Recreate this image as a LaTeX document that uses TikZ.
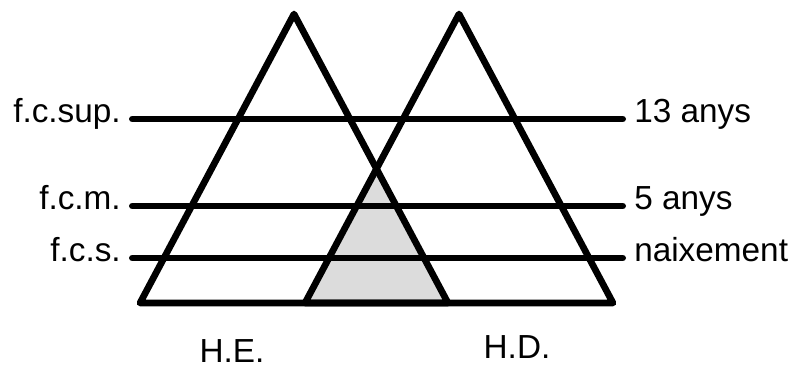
\documentclass[tikz,border=0pt]{standalone}
\usepackage{fontspec}
\setmainfont{Liberation Sans}
\definecolor{overlapgray}{RGB}{220,220,220}

\begin{document}
\begin{tikzpicture}[x=0.75pt, y=-0.75pt, font=\fontsize{25}{30}\selectfont,
  edge/.style={line width=5pt, line join=round, line cap=round},
  rung/.style={edge, shorten <=8.5pt, shorten >=8.5pt},
  lbl/.style={inner sep=0pt}]
  \useasboundingbox (0,0) rectangle (789,367);
  \coordinate (LA) at (294,14);
  \coordinate (LL) at (140,303);
  \coordinate (LR) at (448,303);
  \coordinate (RA) at (459,14);
  \coordinate (RL) at (305,303);
  \coordinate (RR) at (613,303);
  \coordinate (X) at (376.5,169);
  \fill[overlapgray] (RL) -- (X) -- (LR) -- cycle;
  \node[lbl, anchor=mid east] (fcsup) at (121,119) {f.c.sup.};
  \node[lbl, anchor=mid east] (fcm) at (121,206) {f.c.m.};
  \node[lbl, anchor=mid east] (fcs) at (121,258) {f.c.s.};
  \node[lbl, anchor=mid west] (a13) at (634,119) {13 anys};
  \node[lbl, anchor=mid west] (a5) at (634,206) {5 anys};
  \node[lbl, anchor=mid west] (naix) at (634,258) {naixement};
  \draw[rung] (fcsup.mid east) -- (a13.mid west);
  \draw[rung] (fcm.mid east) -- (a5.mid west);
  \draw[rung] (fcs.mid east) -- (naix.mid west);
  \draw[edge] (LA) -- (LL) -- (LR) -- cycle;
  \draw[edge] (RA) -- (RL) -- (RR) -- cycle;
  \node[anchor=base] (he) at (232,362) {H.E.};
  \node[anchor=base] (hd) at (517,358) {H.D.};
\end{tikzpicture}
\end{document}
